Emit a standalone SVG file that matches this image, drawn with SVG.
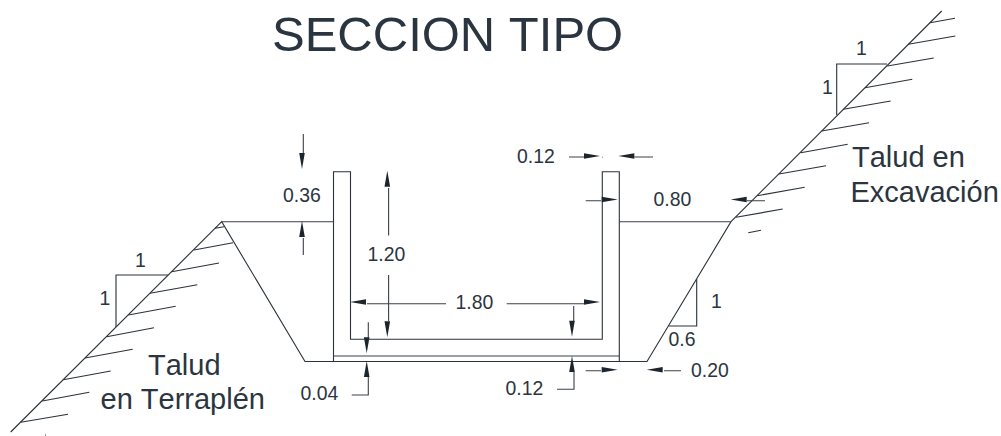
<svg xmlns="http://www.w3.org/2000/svg" width="1001" height="436" viewBox="0 0 1001 436">
<style>
text{font-family:"Liberation Sans",Arial,sans-serif;fill:#2b3540;font-kerning:none}
.t{font-size:19.4px}
.l{font-size:29px}
.s{fill:none;stroke:#2a323a;stroke-width:1.1}
.d{fill:none;stroke:#3a4148;stroke-width:1.1}
.h{fill:#1c242c}
</style>
<defs><polygon id="a" class="h" points="0,0 -16,-2.8 -16,2.8"/></defs>
<rect width="1001" height="436" fill="#fff"/>
<g id="title"><text x="272" y="51" font-size="49">SECCION TIPO</text></g>
<g id="terrain">
<path class="s" d="M10.7 432L221.7 221.7L305 361.5H647L731 221.7L941.7 11"/>
<path class="d" d="M221.7 221.7H333.3M619.3 221.7H731"/>
<path class="s" d="M215 228.3L224 226.7M194 250L233 242.7M171.7 271.7L219 263M150 293.3L197.3 284.7M128.3 315L175.7 306.3M106.7 336.7L154 327.7M85 358L132.7 349.3M63.3 379.7L110.7 371M42.3 401L89.3 392.3M20.7 422.3L68 414.3"/>
<path class="s" d="M168 275H116V327M45 435L46 435"/>
<path class="s" d="M930 22.7L955 18.3M908.3 44.3L955.3 36M887.3 66L933.7 58M865 87.7L912.3 79.3M843.3 109.3L890.7 101M821.7 131L869 122.7M800.7 152.7L847.7 144.3M779 174L826 165.7M757.3 195.7L804.7 187.3M736 217.3L782.7 209M748.3 232.7L761 230.3"/>
<path class="s" d="M887 64H836.7V115"/>
<path class="s" d="M696.7 279V326H669"/>
</g>
<g id="channel">
<path class="s" d="M333.5 361.5V171.7H350.5V339.3H602.3V171.7H619.3V361.5"/>
<path class="d" d="M333.5 356H619.3"/>
</g>
<g id="dimensions">
<path class="d" d="M303.3 134V154M303.3 238V255M388.6 188V235.6M388.6 275V321M367 303.7H446M506.7 303.7H584M368.3 322.3V338M368.3 377V395H351.7M573.7 306V322M574 372V389.3H557M585.7 370.7H601M664 370.7H681M569 157H584M634.3 157H653M602.4 157.3H603M585.7 200.7H601M747 200.7H765"/>
<use href="#a" transform="translate(302,169) rotate(90)"/>
<use href="#a" transform="translate(302,221) rotate(-90)"/>
<use href="#a" transform="translate(387.3,170.7) rotate(-90)"/>
<use href="#a" transform="translate(387.3,337.3) rotate(90)"/>
<use href="#a" transform="translate(350,302) rotate(180)"/>
<use href="#a" transform="translate(600,302)"/>
<use href="#a" transform="translate(366.7,353.3) rotate(90)"/>
<use href="#a" transform="translate(366.7,361) rotate(-90)"/>
<use href="#a" transform="translate(572,336.7) rotate(90)"/>
<use href="#a" transform="translate(572,356) rotate(-90)"/>
<use href="#a" transform="translate(617.7,369.7)"/>
<use href="#a" transform="translate(646.7,369.7) rotate(180)"/>
<use href="#a" transform="translate(600,156)"/>
<use href="#a" transform="translate(618.3,156) rotate(180)"/>
<use href="#a" transform="translate(617.7,199.5)"/>
<use href="#a" transform="translate(730.7,199.5) rotate(180)"/>
</g>
<g id="labels">
<text class="t" x="283" y="202">0.36</text>
<text class="t" x="367.5" y="261">1.20</text>
<text class="t" x="455.5" y="309">1.80</text>
<text class="t" x="300.5" y="400">0.04</text>
<text class="t" x="505.5" y="395">0.12</text>
<text class="t" x="517" y="163">0.12</text>
<text class="t" x="653.5" y="206">0.80</text>
<text class="t" x="691" y="376.5">0.20</text>
<text class="t" x="668.5" y="346">0.6</text>
<text class="t" x="711" y="308">1</text>
<text class="t" x="135" y="266.5">1</text>
<text class="t" x="99.5" y="305">1</text>
<text class="t" x="856" y="55">1</text>
<text class="t" x="822" y="94">1</text>
<text class="l" x="148" y="375">Talud</text>
<text class="l" x="100.5" y="409">en Terraplén</text>
<text class="l" x="852" y="167">Talud en</text>
<text class="l" x="850.5" y="202">Excavación</text>
</g>
</svg>
